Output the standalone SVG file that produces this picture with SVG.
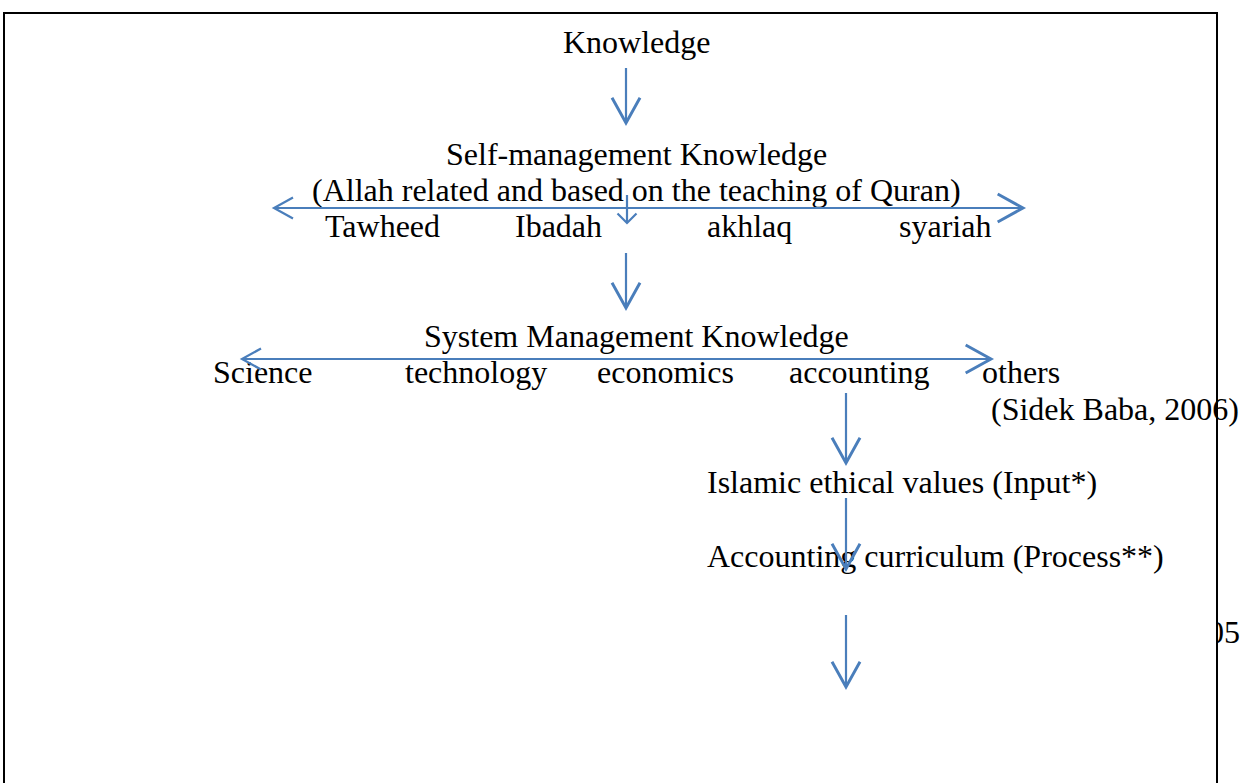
<svg xmlns="http://www.w3.org/2000/svg" width="1244" height="783" viewBox="0 0 1244 783">
  <style>
    .t { font-family: "Liberation Serif", "Times New Roman", serif; font-size: 32px; fill: #000; }
    .c { stroke: #4a7ebb; stroke-width: 2.2; fill: none; }
    .frame { stroke: #000; stroke-width: 2; fill: none; }
  </style>
  <defs>
    <marker id="head" markerUnits="userSpaceOnUse" orient="auto" refX="0" refY="0" markerWidth="40" markerHeight="40" viewBox="-25 -15 30 30" overflow="visible">
      <path d="M-19,-10.5 L0,0 L-19,10.5" stroke="#4a7ebb" stroke-width="2.2" fill="none"/>
    </marker>
    <marker id="headS" markerUnits="userSpaceOnUse" orient="auto" refX="0" refY="0" markerWidth="30" markerHeight="30" viewBox="-15 -15 30 30" overflow="visible">
      <path d="M-9.5,-9.5 L0,0 L-9.5,9.5" stroke="#4a7ebb" stroke-width="2.2" fill="none"/>
    </marker>
    <clipPath id="rightClip">
      <rect x="1218" y="600" width="40" height="60"/>
    </clipPath>
  </defs>
  <rect width="1244" height="783" fill="#fff"/>

  <g id="knowledge"><text class="t" x="563" y="53">Knowledge</text></g>
  <g id="self-management">
    <text class="t" x="446" y="165">Self-management Knowledge</text>
    <text class="t" x="312" y="201">(Allah related and based on the teaching of Quran)</text>
  </g>
  <g id="tawheed"><text class="t" x="325" y="237">Tawheed</text></g>
  <g id="ibadah"><text class="t" x="515" y="237">Ibadah</text></g>
  <g id="akhlaq"><text class="t" x="707" y="237">akhlaq</text></g>
  <g id="syariah"><text class="t" x="899" y="237">syariah</text></g>
  <g id="system-management"><text class="t" x="424" y="347">System Management Knowledge</text></g>
  <g id="science"><text class="t" x="213" y="383">Science</text></g>
  <g id="technology"><text class="t" x="405" y="383">technology</text></g>
  <g id="economics"><text class="t" x="597" y="383">economics</text></g>
  <g id="accounting"><text class="t" x="789" y="383">accounting</text></g>
  <g id="others"><text class="t" x="982" y="383">others</text></g>
  <g id="citation"><text class="t" x="991" y="420">(Sidek Baba, 2006)</text></g>
  <g id="islamic-values"><text class="t" x="707" y="493">Islamic ethical values (Input*)</text></g>
  <g id="curriculum"><text class="t" x="707" y="567">Accounting curriculum (Process**)</text></g>
  <g id="clipped-number"><text class="t" x="1208" y="643" clip-path="url(#rightClip)">05</text></g>

  <g id="connectors">
    <line class="c" x1="626" y1="68" x2="626" y2="123" marker-end="url(#head)"/>
    <line class="c" x1="274" y1="208" x2="1023" y2="208" marker-end="url(#head)"/>
    <path class="c" d="M293,197.5 L274,208 L293,218.5"/>
    <line class="c" x1="627" y1="195" x2="627" y2="223" marker-end="url(#headS)"/>
    <line class="c" x1="626" y1="253" x2="626" y2="308" marker-end="url(#head)"/>
    <line class="c" x1="242" y1="359" x2="991" y2="359" marker-end="url(#head)"/>
    <path class="c" d="M261,348.5 L242,359 L261,369.5"/>
    <line class="c" x1="846" y1="393" x2="846" y2="463" marker-end="url(#head)"/>
    <line class="c" x1="846" y1="498" x2="846" y2="569" marker-end="url(#head)"/>
    <line class="c" x1="846" y1="615" x2="846" y2="687" marker-end="url(#head)"/>
  </g>

  <g id="frame">
    <polyline class="frame" points="4,783 4,13 1217,13 1217,783"/>
  </g>
</svg>
